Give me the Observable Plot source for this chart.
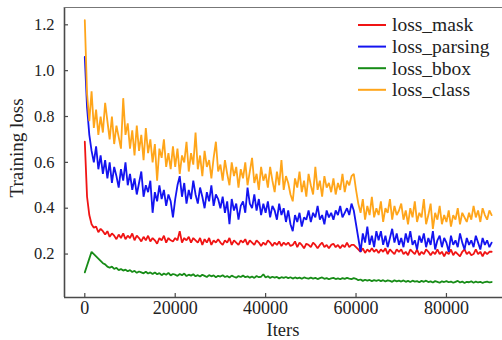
<!DOCTYPE html>
<html>
<head>
<meta charset="utf-8">
<script src="https://cdn.jsdelivr.net/npm/d3@7"></script>
<script src="https://cdn.jsdelivr.net/npm/@observablehq/plot@0.6"></script>
<style>
  html, body { margin: 0; padding: 0; background: #fff; }
</style>
</head>
<body>
<div id="chart"></div>
<script>
// ---- data (one value every 500 iterations) ----
const ITER_STEP = 500;
const seriesNames = ["loss_mask", "loss_parsing", "loss_bbox", "loss_class"];
const seriesColors = ["#f01414", "#1414f0", "#178c17", "#ffa51a"];

const lossMask = [
  0.69, 0.45, 0.37, 0.33, 0.315, 0.32, 0.295, 0.31, 0.30, 0.285,
  0.30, 0.275, 0.29, 0.28, 0.265, 0.285, 0.27, 0.29, 0.265, 0.28,
  0.27, 0.29, 0.26, 0.28, 0.27, 0.255, 0.275, 0.26, 0.28, 0.255,
  0.27, 0.26, 0.245, 0.27, 0.26, 0.28, 0.25, 0.27, 0.26, 0.255,
  0.27, 0.26, 0.30, 0.25, 0.27, 0.26, 0.275, 0.25, 0.27, 0.26,
  0.25, 0.27, 0.24, 0.265, 0.25, 0.27, 0.24, 0.26, 0.25, 0.265,
  0.25, 0.24, 0.26, 0.25, 0.27, 0.24, 0.26, 0.25, 0.24, 0.26,
  0.25, 0.265, 0.24, 0.26, 0.25, 0.24, 0.26, 0.25, 0.235, 0.25,
  0.24, 0.26, 0.25, 0.235, 0.25, 0.24, 0.255, 0.235, 0.25, 0.24,
  0.25, 0.235, 0.24, 0.255, 0.23, 0.25, 0.24, 0.225, 0.245, 0.24,
  0.23, 0.25, 0.24, 0.225, 0.24, 0.25, 0.23, 0.24, 0.225, 0.24,
  0.245, 0.23, 0.24, 0.225, 0.24, 0.23, 0.25, 0.23, 0.24, 0.24,
  0.23, 0.22, 0.21, 0.225, 0.205, 0.22, 0.21, 0.225, 0.21, 0.22,
  0.205, 0.22, 0.21, 0.225, 0.20, 0.22, 0.21, 0.20, 0.22, 0.21,
  0.22, 0.20, 0.21, 0.195, 0.22, 0.21, 0.20, 0.22, 0.195, 0.21,
  0.20, 0.22, 0.21, 0.195, 0.21, 0.20, 0.22, 0.20, 0.21, 0.19,
  0.21, 0.20, 0.22, 0.195, 0.21, 0.20, 0.19, 0.21, 0.22, 0.20,
  0.21, 0.195, 0.20, 0.22, 0.20, 0.21, 0.19, 0.21, 0.20, 0.21, 0.21
];

const lossParsing = [
  1.06, 0.84, 0.72, 0.65, 0.60, 0.67, 0.57, 0.63, 0.55, 0.61,
  0.53, 0.60, 0.51, 0.58, 0.54, 0.49, 0.57, 0.52, 0.60, 0.50,
  0.55, 0.48, 0.53, 0.46, 0.51, 0.56, 0.45, 0.50, 0.47, 0.52,
  0.38, 0.47, 0.43, 0.50, 0.44, 0.48, 0.41, 0.46, 0.43, 0.36,
  0.44, 0.50, 0.54, 0.45, 0.51, 0.42, 0.48, 0.44, 0.52, 0.46,
  0.42, 0.49, 0.45, 0.40, 0.47, 0.43, 0.50, 0.41, 0.46, 0.44,
  0.40, 0.45, 0.38, 0.43, 0.33, 0.44, 0.39, 0.42, 0.35, 0.41,
  0.43, 0.38, 0.49, 0.42, 0.40, 0.46, 0.39, 0.44, 0.37, 0.42,
  0.38, 0.43, 0.36, 0.41, 0.39, 0.35, 0.42, 0.37, 0.40, 0.34,
  0.39, 0.33, 0.30, 0.37, 0.34, 0.38, 0.32, 0.36, 0.35, 0.39,
  0.34, 0.38, 0.36, 0.41, 0.35, 0.37, 0.33, 0.39, 0.36, 0.38,
  0.35, 0.39, 0.37, 0.41, 0.36, 0.38, 0.40, 0.37, 0.42, 0.39,
  0.33, 0.27, 0.21, 0.29, 0.25, 0.32, 0.24, 0.28, 0.23, 0.30,
  0.26, 0.30, 0.24, 0.28, 0.23, 0.27, 0.31, 0.25, 0.29, 0.24,
  0.27, 0.23, 0.29, 0.25, 0.30, 0.24, 0.26, 0.22, 0.28, 0.25,
  0.29, 0.23, 0.27, 0.24, 0.30, 0.22, 0.26, 0.28, 0.23, 0.27,
  0.25, 0.21, 0.28, 0.24, 0.26, 0.23, 0.29, 0.25, 0.22, 0.27,
  0.24, 0.26, 0.23, 0.28, 0.25, 0.22, 0.27, 0.24, 0.26, 0.23, 0.25
];

const lossBbox = [
  0.12, 0.15, 0.18, 0.21, 0.20, 0.19, 0.18, 0.17, 0.16, 0.155,
  0.145, 0.14, 0.145, 0.135, 0.14, 0.13, 0.135, 0.128, 0.132, 0.125,
  0.13, 0.122, 0.127, 0.118, 0.124, 0.12, 0.116, 0.123, 0.115, 0.12,
  0.113, 0.12, 0.112, 0.117, 0.108, 0.115, 0.11, 0.118, 0.107, 0.113,
  0.11, 0.105, 0.113, 0.108, 0.115, 0.104, 0.11, 0.106, 0.112, 0.103,
  0.108, 0.102, 0.11, 0.105, 0.10, 0.108, 0.103, 0.107, 0.099, 0.105,
  0.102, 0.108, 0.10, 0.104, 0.098, 0.106, 0.101, 0.097, 0.104, 0.10,
  0.106, 0.099, 0.103, 0.097, 0.102, 0.096, 0.104, 0.099, 0.101, 0.112,
  0.098, 0.103, 0.096, 0.101, 0.097, 0.10, 0.094, 0.099, 0.096, 0.10,
  0.095, 0.099, 0.093, 0.098, 0.094, 0.097, 0.092, 0.098, 0.095, 0.093,
  0.097, 0.093, 0.096, 0.091, 0.095, 0.098, 0.092, 0.095, 0.09, 0.094,
  0.096, 0.091, 0.094, 0.09, 0.095, 0.092, 0.096, 0.093, 0.091, 0.095,
  0.092, 0.086, 0.089, 0.083, 0.088, 0.084, 0.087, 0.082, 0.086, 0.083,
  0.087, 0.082, 0.086, 0.08, 0.085, 0.083, 0.079, 0.086, 0.081, 0.084,
  0.08, 0.085, 0.079, 0.083, 0.078, 0.084, 0.08, 0.082, 0.077, 0.083,
  0.079, 0.084, 0.078, 0.081, 0.076, 0.082, 0.079, 0.075, 0.081, 0.078,
  0.082, 0.077, 0.08, 0.075, 0.079, 0.083, 0.076, 0.08, 0.074, 0.079,
  0.077, 0.081, 0.075, 0.08, 0.076, 0.079, 0.074, 0.078, 0.08, 0.076, 0.078
];

const lossClass = [
  1.22, 0.90, 0.78, 0.91, 0.75, 0.83, 0.72, 0.80, 0.73, 0.86,
  0.78, 0.70, 0.80, 0.68, 0.76, 0.71, 0.66, 0.88, 0.72, 0.77,
  0.66, 0.74, 0.63, 0.76, 0.65, 0.72, 0.61, 0.75, 0.64, 0.70,
  0.60, 0.68, 0.52, 0.66, 0.62, 0.70, 0.58, 0.64, 0.57, 0.67,
  0.58, 0.66, 0.55, 0.63, 0.60, 0.69, 0.56, 0.64, 0.59, 0.73,
  0.57, 0.63, 0.54, 0.65, 0.58, 0.61, 0.53, 0.62, 0.69, 0.56,
  0.59, 0.52, 0.61, 0.55, 0.50, 0.60, 0.54, 0.58, 0.49, 0.57,
  0.53, 0.60, 0.50, 0.56, 0.62, 0.51, 0.55, 0.48, 0.58, 0.52,
  0.55, 0.49, 0.58, 0.52, 0.47, 0.56, 0.50, 0.61, 0.48, 0.54,
  0.51, 0.46, 0.43, 0.53, 0.49, 0.56, 0.47, 0.52, 0.45, 0.55,
  0.50, 0.46, 0.58, 0.48, 0.52, 0.45, 0.54, 0.49, 0.51, 0.47,
  0.53, 0.46, 0.51, 0.48, 0.55, 0.47, 0.52, 0.50, 0.54, 0.55,
  0.48, 0.42, 0.38, 0.44, 0.35, 0.41, 0.37, 0.45, 0.36, 0.40,
  0.37, 0.43, 0.34, 0.40, 0.38, 0.44, 0.35, 0.41, 0.37, 0.39,
  0.42, 0.35, 0.39, 0.33, 0.40, 0.36, 0.43, 0.34, 0.38, 0.36,
  0.44, 0.33, 0.37, 0.42, 0.31, 0.38, 0.35, 0.41, 0.33, 0.37,
  0.34, 0.39, 0.32, 0.37, 0.35, 0.40, 0.33, 0.38, 0.36, 0.34,
  0.38, 0.35, 0.41, 0.36, 0.39, 0.34, 0.40, 0.37, 0.35, 0.39, 0.37
];

const xTicks = [0, 20000, 40000, 60000, 80000];
const yTicks = [0.2, 0.4, 0.6, 0.8, 1.0, 1.2];
const xDomain = [-4490, 92400];
const yDomain = [0.0105, 1.2755];

// ---- layout ----
const W = 502, H = 340;
const M = { top: 7, right: 0, bottom: 43, left: 64 };
const plotW = W - M.left - M.right;
const plotH = H - M.top - M.bottom;
const FONT = "'Liberation Serif', 'Times New Roman', serif";
const AXIS = "#4a4a4a";

const rows = [];
[lossMask, lossParsing, lossBbox, lossClass].forEach((arr, k) => {
  arr.forEach((v, i) => rows.push({ series: seriesNames[k], iter: i * ITER_STEP, loss: v }));
});

const chart = Plot.plot({
  width: W,
  height: H,
  marginTop: M.top,
  marginRight: M.right,
  marginBottom: M.bottom,
  marginLeft: M.left,
  style: { fontFamily: FONT, fontSize: "16.5px", background: "#fff", overflow: "visible" },
  x: { domain: xDomain },
  y: { domain: yDomain },
  color: { domain: seriesNames, range: seriesColors },
  marks: [
    Plot.line(rows, { x: "iter", y: "loss", z: "series", stroke: "series", strokeWidth: 1.8, strokeLinejoin: "miter" }),
    // inward tick marks
    Plot.ruleX(xTicks, { x: d => d, insetTop: plotH - 4, stroke: AXIS, strokeWidth: 1.2 }),
    Plot.ruleY(yTicks, { y: d => d, insetRight: plotW - 4, stroke: AXIS, strokeWidth: 1.2 }),
    // axis lines (left, bottom, top)
    Plot.ruleX([xDomain[0]], { stroke: AXIS, strokeWidth: 1.6 }),
    Plot.ruleY([yDomain[0]], { stroke: AXIS, strokeWidth: 1.6 }),
    Plot.ruleY([yDomain[1]], { stroke: "#777", strokeWidth: 1.2 }),
    Plot.axisX(xTicks, { tickSize: 0, tickPadding: 4, fontSize: 18, fontFamily: FONT, fill: "#222", label: null, tickFormat: d => String(d) }),
    Plot.axisY(yTicks, { tickSize: 0, tickPadding: 10, fontSize: 16.5, fontFamily: FONT, fill: "#222", label: null, tickFormat: d => d.toFixed(1) })
  ]
});

document.getElementById("chart").appendChild(chart);

// ---- legend and axis titles ----
const svg = d3.select(chart);
const legend = svg.append("g")
  .attr("font-family", FONT).attr("font-size", 19.5).attr("fill", "#222")
  .attr("text-anchor", "start");
seriesNames.forEach((name, k) => {
  const y = 25 + k * 21.6;
  legend.append("line")
    .attr("x1", 358).attr("x2", 386).attr("y1", y).attr("y2", y)
    .attr("stroke", seriesColors[k]).attr("stroke-width", 2);
  legend.append("text")
    .attr("x", 392).attr("y", y).attr("dy", "0.33em")
    .attr("text-anchor", "start")
    .text(name);
});

svg.append("text")
  .attr("transform", "translate(23,148) rotate(-90)")
  .attr("text-anchor", "middle")
  .attr("font-family", FONT).attr("font-size", 19).attr("fill", "#222")
  .text("Training loss");

svg.append("text")
  .attr("x", M.left + plotW / 2).attr("y", 335.5)
  .attr("text-anchor", "middle")
  .attr("font-family", FONT).attr("font-size", 18.5).attr("fill", "#222")
  .text("Iters");
</script>
</body>
</html>
